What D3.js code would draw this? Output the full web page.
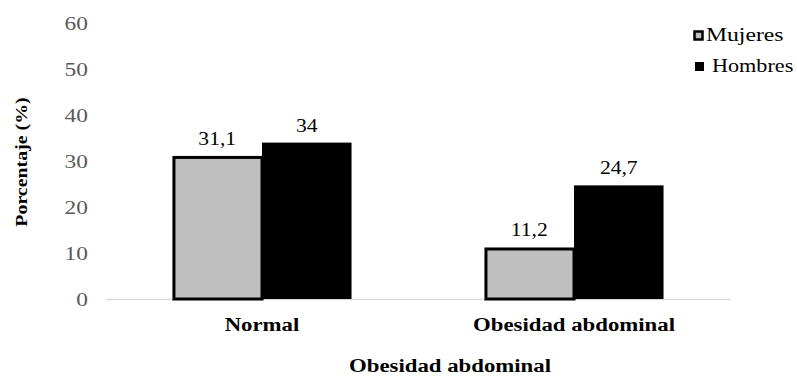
<!DOCTYPE html>
<html><head><meta charset="utf-8">
<script src="https://cdn.jsdelivr.net/npm/d3@7/dist/d3.min.js"></script>
<style>body{margin:0;background:#fff}svg{display:block}
svg text{font-family:"Liberation Serif","Times New Roman",serif;}</style>
</head><body>
<svg id="c" width="797" height="377"></svg>
<script>
const categories = ["Normal", "Obesidad abdominal"];
const seriesNames = ["Mujeres", "Hombres"];
const mujeres = [31.1, 11.2];
const hombres = [34, 24.7];
const yTicks = [0, 10, 20, 30, 40, 50, 60];
const fmt = v => String(v).replace(".", ",");

const svg = d3.select("#c");
const x = d3.scaleBand().domain(categories).range([106, 730]).paddingInner(0.426).paddingOuter(0.213);
const xs = d3.scaleBand().domain(seriesNames).range([0, x.bandwidth()]);
const y = d3.scaleLinear().domain([0, 60]).range([299, 23]);
const colors = {Mujeres: "#bfbfbf", Hombres: "#000000"};
const values = {Mujeres: mujeres, Hombres: hombres};

function label(tx, ty, str, opts) {
  const o = Object.assign({size: 18, bold: false, anchor: "middle", sx: 1.2, rot: 0, fill: "#000"}, opts || {});
  return svg.append("text")
    .attr("transform", `translate(${tx},${ty}) rotate(${o.rot}) scale(${o.sx},1)`)
    .attr("text-anchor", o.anchor).attr("font-size", o.size)
    .attr("font-weight", o.bold ? "bold" : "normal").attr("fill", o.fill).text(str);
}

// y axis tick labels
const yAxis = d3.axisLeft(y).tickValues(yTicks).tickSize(0).tickPadding(0);
const gy = svg.append("g").attr("transform", "translate(88,0)").call(yAxis);
gy.select(".domain").remove();
gy.selectAll("text").attr("font-size", 18).attr("fill", "#595959")
  .attr("dy", "0.35em").attr("x", 0).attr("transform", "scale(1.3,1)");

// baseline + category labels
const xAxis = d3.axisBottom(x).tickSize(0).tickPadding(0);
const gx = svg.append("g").attr("transform", `translate(0,${y(0)})`).call(xAxis);
gx.select(".domain").attr("stroke", "#d9d9d9").attr("stroke-width", 1.5);
gx.selectAll("text").attr("font-size", 19).attr("font-weight", "bold")
  .attr("fill", "#000").attr("y", 0).attr("dy", null).attr("transform", "translate(0,32) scale(1.2,1)");

// bars
seriesNames.forEach(s => {
  const g = svg.append("g");
  categories.forEach((c, i) => {
    const v = values[s][i];
    const bx = x(c) + xs(s);
    if (s === "Mujeres") {
      g.append("rect").attr("x", bx + 1.5).attr("y", y(v) + 1.5)
        .attr("width", xs.bandwidth() - 1.5).attr("height", y(0) - y(v) - 1.5)
        .attr("fill", colors[s]).attr("stroke", "#000").attr("stroke-width", 3);
    } else {
      g.append("rect").attr("x", bx).attr("y", y(v))
        .attr("width", xs.bandwidth()).attr("height", y(0) - y(v))
        .attr("fill", colors[s]);
    }
    label(bx + xs.bandwidth() / 2, y(v) - 11, fmt(v), {size: 18, sx: 1.2});
  });
});

// y title
label(27, 162, "Porcentaje (%)", {size: 17, bold: true, rot: -90, sx: 1.17});

// x title
label(450, 372, "Obesidad abdominal", {size: 19, bold: true, sx: 1.2});

// legend
const leg = svg.append("g");
leg.append("rect").attr("x", 694.5).attr("y", 31.5).attr("width", 8).attr("height", 8)
  .attr("fill", colors.Mujeres).attr("stroke", "#000").attr("stroke-width", 2.5);
label(706, 41, seriesNames[0], {size: 18.5, anchor: "start", sx: 1.28});
leg.append("rect").attr("x", 695).attr("y", 62).attr("width", 9).attr("height", 9).attr("fill", colors.Hombres);
label(712, 72, seriesNames[1], {size: 18.5, anchor: "start", sx: 1.2});
</script>
</body></html>
